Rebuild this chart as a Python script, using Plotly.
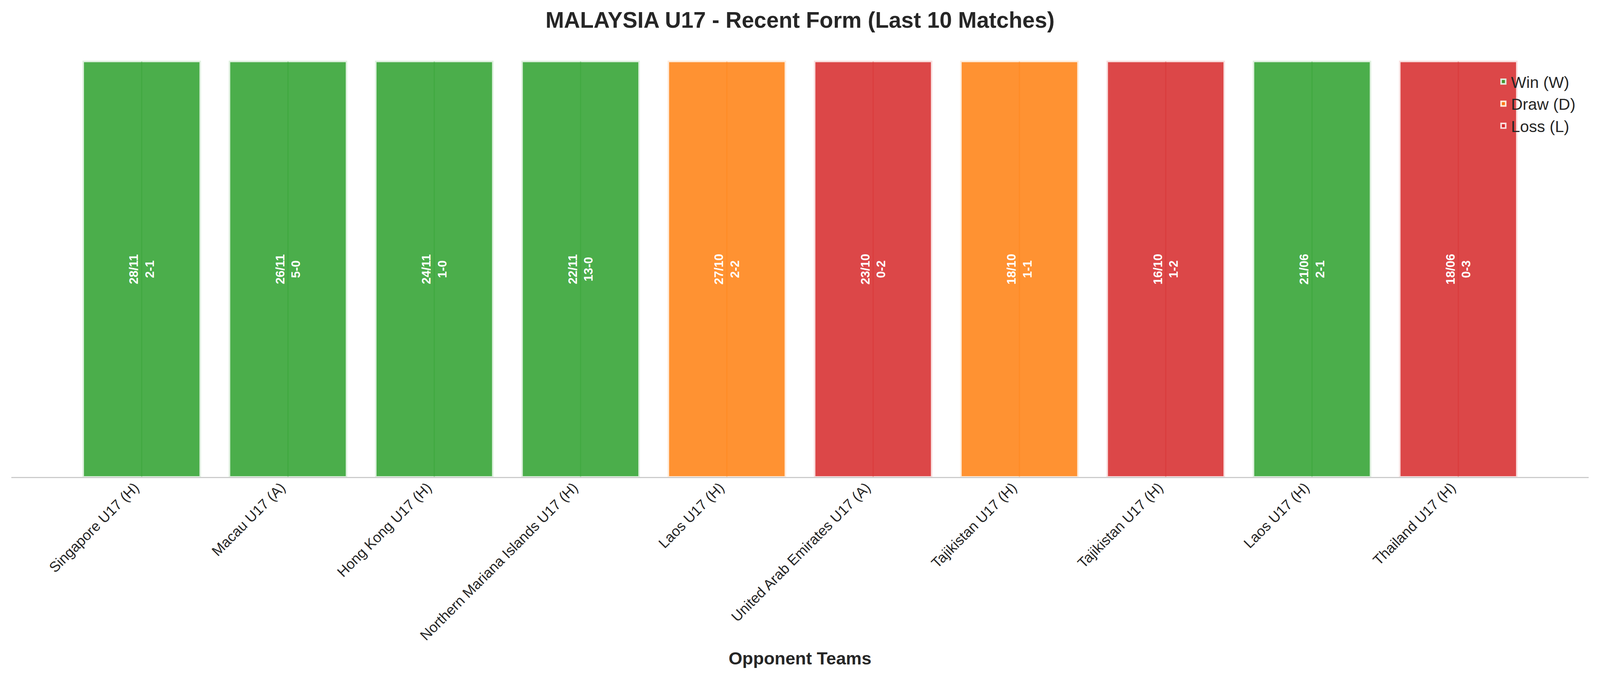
import plotly.graph_objects as go

# ---- data ----
opponents = [
    "Singapore U17 (H)", "Macau U17 (A)", "Hong Kong U17 (H)",
    "Northern Mariana Islands U17 (H)", "Laos U17 (H)",
    "United Arab Emirates U17 (A)", "Tajikistan U17 (H)",
    "Tajikistan U17 (H)", "Laos U17 (H)", "Thailand U17 (H)",
]
dates = ["28/11", "26/11", "24/11", "22/11", "27/10", "23/10", "18/10", "16/10", "21/06", "18/06"]
scores = ["2-1", "5-0", "1-0", "13-0", "2-2", "0-2", "1-1", "1-2", "2-1", "0-3"]
results = ["W", "W", "W", "W", "D", "L", "D", "L", "W", "L"]
heights = [1, 1, 1, 1, 1, 1, 1, 1, 1, 1]

result_names = {"W": "Win (W)", "D": "Draw (D)", "L": "Loss (L)"}
result_rgb = {"W": (44, 160, 44), "D": (255, 127, 14), "L": (214, 39, 40)}

FONT = "Liberation Sans, Arial, sans-serif"
DARK = "#262626"
W, H = 4170, 1769

fig = go.Figure()

for r in ["W", "D", "L"]:
    idx = [i for i, v in enumerate(results) if v == r]
    cr, cg, cb = result_rgb[r]
    fill = f"rgba({cr},{cg},{cb},0.85)"
    tint = "rgb({},{},{})".format(*[int(round(0.15 * c + 0.85 * 255)) for c in (cr, cg, cb)])
    fig.add_trace(go.Bar(
        x=idx,
        y=[heights[i] for i in idx],
        width=0.8,
        name=result_names[r],
        marker=dict(color=fill, line=dict(color=tint, width=4)),
        text=[f"{dates[i]}<br>{scores[i]}" for i in idx],
        textposition="inside",
        insidetextanchor="middle",
        textangle=-90,
        constraintext="none",
        textfont=dict(family=FONT, size=32, color="white", weight="bold"),
        hoverinfo="skip",
    ))

# thin darker centre line inside each bar
for r in ["W", "D", "L"]:
    idx = [i for i, v in enumerate(results) if v == r]
    cr, cg, cb = result_rgb[r]
    fig.add_trace(go.Bar(
        x=idx,
        y=[heights[i] for i in idx],
        width=0.008,
        marker=dict(color=f"rgba({cr},{cg},{cb},0.3)", line=dict(width=0)),
        showlegend=False,
        hoverinfo="skip",
    ))

fig.update_layout(
    width=W,
    height=H,
    barmode="overlay",
    paper_bgcolor="white",
    plot_bgcolor="white",
    margin=dict(l=30, r=30, t=106, b=526, autoexpand=False),
    font=dict(family=FONT, color=DARK),
    title=dict(
        text="<b>MALAYSIA U17 - Recent Form (Last 10 Matches)</b>",
        x=0.5, xanchor="center",
        y=1 - 52 / H, yanchor="middle",
        font=dict(size=58, color=DARK, family=FONT),
    ),
    xaxis=dict(
        range=[-0.89, 9.89],
        tickmode="array",
        tickvals=list(range(len(opponents))),
        ticktext=opponents,
        tickangle=-45,
        tickfont=dict(size=37.5, color=DARK, family=FONT),
        ticks="",
        ticklabelshift=-18,
        ticklabelstandoff=-12,
        showgrid=False,
        zeroline=False,
        showline=True,
        linecolor="#cccccc",
        linewidth=3,
        automargin=False,
        title=dict(
            text="<b>Opponent Teams</b>",
            font=dict(size=46, color=DARK, family=FONT),
            standoff=24,
        ),
    ),
    yaxis=dict(range=[0, 1.05], visible=False, showgrid=False, zeroline=False),
    legend=dict(
        x=0.993, xanchor="right",
        y=0.936, yanchor="top",
        bgcolor="rgba(0,0,0,0)",
        borderwidth=0,
        font=dict(size=42, color=DARK, family=FONT),
    ),
    showlegend=True,
)

fit_script = (
    "document.documentElement.style.margin='0';"
    "document.body.style.margin='0';"
    "document.body.style.overflow='hidden';"
    "var gd=document.getElementById('{plot_id}');"
    "var s=Math.min(window.innerWidth/%d, window.innerHeight/%d);"
    "gd.style.transformOrigin='0 0';"
    "gd.style.transform='scale('+s+')';" % (W, H)
)

fig.write_html(
    "out.html",
    config={"displayModeBar": False},
    post_script=fit_script,
)
